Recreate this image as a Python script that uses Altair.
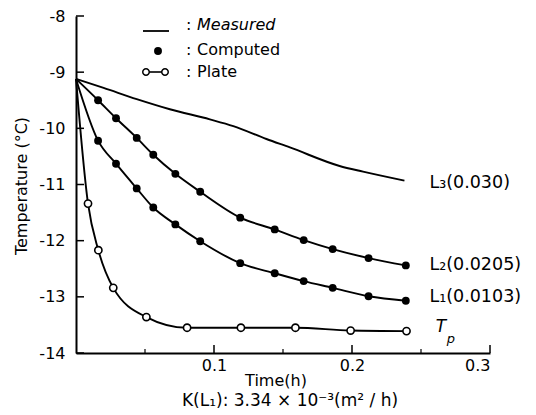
import altair as alt
import pandas as pd

FONT = "DejaVu Sans"

# ---- data ----
start_t = 0.0
start_v = -9.12

meas_t = [0.0, 0.02, 0.044, 0.068, 0.097, 0.114, 0.138, 0.155, 0.191, 0.208, 0.238]
meas_v = [-9.12, -9.28, -9.48, -9.66, -9.84, -9.96, -10.19, -10.34, -10.67, -10.77, -10.93]

comp_t = [0.016, 0.029, 0.044, 0.056, 0.072, 0.090, 0.119, 0.144, 0.165, 0.186, 0.212, 0.239]
L2_v = [-9.50, -9.82, -10.17, -10.47, -10.81, -11.13, -11.59, -11.80, -11.99, -12.15, -12.31, -12.44]
L1_v = [-10.22, -10.63, -11.07, -11.41, -11.71, -12.01, -12.40, -12.58, -12.72, -12.84, -12.99, -13.07]

plate_t = [0.0087, 0.0162, 0.027, 0.051, 0.0805, 0.1195, 0.159, 0.199, 0.2395]
plate_v = [-11.34, -12.17, -12.84, -13.36, -13.55, -13.55, -13.55, -13.60, -13.61]

x_ticks_major = [0.1, 0.2, 0.3]
x_ticks_minor = [0.05, 0.15, 0.25]
y_ticks = [-14, -13, -12, -11, -10, -9, -8]

curve_labels = ["L\u2083(0.030)", "L\u2082(0.0205)", "L\u2081(0.0103)"]
curve_label_t = [0.238, 0.238, 0.238]
curve_label_v = [-10.97, -12.44, -13.00]
tp_t = [0.239]
tp_v = [-13.53]

legend_labels = ["Measured", "Computed", "Plate"]

# ---- tables ----
rows = []
for i, (t, v) in enumerate(zip(meas_t, meas_v)):
    rows.append({"series": "L3", "t": t, "v": v, "o": i})
for name, vals in (("L2", L2_v), ("L1", L1_v)):
    rows.append({"series": name, "t": start_t, "v": start_v, "o": 0})
    for i, (t, v) in enumerate(zip(comp_t, vals)):
        rows.append({"series": name, "t": t, "v": v, "o": i + 1})
rows.append({"series": "Tp", "t": start_t, "v": start_v, "o": 0})
for i, (t, v) in enumerate(zip(plate_t, plate_v)):
    rows.append({"series": "Tp", "t": t, "v": v, "o": i + 1})
lines_df = pd.DataFrame(rows)

comp_df = pd.DataFrame(
    [{"t": t, "v": v} for vals in (L2_v, L1_v) for t, v in zip(comp_t, vals)]
)
plate_df = pd.DataFrame({"t": plate_t, "v": plate_v})

xs = alt.Scale(domain=[0, 0.3], nice=False, zero=False)
ys = alt.Scale(domain=[-14, -8], nice=False, zero=False)

X = alt.X(
    "t:Q",
    scale=xs,
    axis=alt.Axis(
        values=x_ticks_major, tickSize=0, grid=False, title=None, format=".1f",
        domainColor="black", domainWidth=2, labelFont=FONT, labelFontSize=16,
        labelColor="black", labelPadding=4,
    ),
)
Y = alt.Y(
    "v:Q",
    scale=ys,
    axis=alt.Axis(
        values=y_ticks, tickSize=0, grid=False, title=None,
        labelExpr="'-' + abs(datum.value)",
        domainColor="black", domainWidth=2, labelFont=FONT, labelFontSize=16,
        labelColor="black", labelPadding=11,
    ),
)

lines = alt.Chart(lines_df).mark_line(
    color="black", strokeWidth=1.9, interpolate="monotone"
).encode(x=X, y=Y, detail="series:N", order="o:Q")

comp_pts = alt.Chart(comp_df).mark_point(
    shape="circle", filled=True, color="black", size=62, opacity=1
).encode(x=alt.X("t:Q", scale=xs), y=alt.Y("v:Q", scale=ys))

plate_pts = alt.Chart(plate_df).mark_point(
    shape="circle", filled=True, fill="white", stroke="black", strokeWidth=1.6,
    size=52, opacity=1,
).encode(x=alt.X("t:Q", scale=xs), y=alt.Y("v:Q", scale=ys))

# inward ticks
ytick = alt.Chart(pd.DataFrame({"v": y_ticks})).mark_rule(
    color="black", strokeWidth=1.5
).encode(y=alt.Y("v:Q", scale=ys), x=alt.value(0), x2=alt.value(8))
xtick_major = alt.Chart(pd.DataFrame({"t": x_ticks_major})).mark_rule(
    color="black", strokeWidth=1.5
).encode(x=alt.X("t:Q", scale=xs), y=alt.value(337), y2=alt.value(329))
xtick_minor = alt.Chart(pd.DataFrame({"t": x_ticks_minor})).mark_rule(
    color="black", strokeWidth=1.2
).encode(x=alt.X("t:Q", scale=xs), y=alt.value(337), y2=alt.value(333))

# curve labels on the right
lab_df = pd.DataFrame({"label": curve_labels, "t": curve_label_t, "v": curve_label_v})
curve_text = alt.Chart(lab_df).mark_text(
    font=FONT, fontSize=17.5, align="left", baseline="middle", dx=25, color="black"
).encode(x=alt.X("t:Q", scale=xs), y=alt.Y("v:Q", scale=ys), text="label:N")

tp_df = pd.DataFrame({"t": tp_t, "v": tp_v, "T": ["T"], "p": ["p"]})
tp_T = alt.Chart(tp_df).mark_text(
    font=FONT, fontSize=17, fontStyle="italic", align="left", baseline="middle",
    dx=30, color="black",
).encode(x=alt.X("t:Q", scale=xs), y=alt.Y("v:Q", scale=ys), text="T:N")
tp_p = alt.Chart(tp_df).mark_text(
    font=FONT, fontSize=13, fontStyle="italic", align="left", baseline="middle",
    dx=41, dy=12, color="black",
).encode(x=alt.X("t:Q", scale=xs), y=alt.Y("v:Q", scale=ys), text="p:N")


# ---- legend (decoration, pixel placed) ----
def one(label):
    return alt.Chart(pd.DataFrame({"label": [label]}))


leg = []
leg.append(one("m").mark_rule(color="black", strokeWidth=1.8).encode(
    x=alt.value(67), x2=alt.value(93), y=alt.value(15)))
leg.append(one("c").mark_point(shape="circle", filled=True, color="black", size=62, opacity=1).encode(
    x=alt.value(82), y=alt.value(35)))
leg.append(one("p").mark_rule(color="black", strokeWidth=1.6).encode(
    x=alt.value(70), x2=alt.value(89), y=alt.value(56)))
for px in (70, 89):
    leg.append(one("p").mark_point(
        shape="circle", filled=True, fill="white", stroke="black", strokeWidth=1.5,
        size=42, opacity=1).encode(x=alt.value(px), y=alt.value(56)))
for lbl, py, style in zip(legend_labels, (9, 34, 56), ("italic", "normal", "normal")):
    leg.append(one(":").mark_text(font=FONT, fontSize=16, align="left", baseline="middle", color="black").encode(
        x=alt.value(110), y=alt.value(py), text="label:N"))
    leg.append(one(lbl).mark_text(font=FONT, fontSize=16, fontStyle=style, align="left",
                                  baseline="middle", color="black").encode(
        x=alt.value(121), y=alt.value(py), text="label:N"))

# ---- axis titles ----
ytitle = one("Temperature (\u00b0C)").mark_text(
    font=FONT, fontSize=16, angle=270, align="center", baseline="middle", color="black"
).encode(x=alt.value(-54), y=alt.value(170), text="label:N")
xtitle = one("Time(h)").mark_text(
    font=FONT, fontSize=16, align="center", baseline="middle", color="black"
).encode(x=alt.value(200), y=alt.value(365), text="label:N")
ktitle = one("K(L\u2081): 3.34 \u00d7 10\u207b\u00b3(m\u00b2 / h)").mark_text(
    font=FONT, fontSize=17, align="center", baseline="middle", color="black"
).encode(x=alt.value(214), y=alt.value(385), text="label:N")

chart = alt.layer(
    lines, comp_pts, plate_pts, ytick, xtick_major, xtick_minor,
    curve_text, tp_T, tp_p, *leg, ytitle, xtitle, ktitle,
).properties(
    width=414, height=337,
    autosize=alt.AutoSizeParams(type="none"),
    padding={"left": 68, "top": 8, "right": 38, "bottom": 60},
    background="white",
).configure_view(stroke=None)

chart.save("out.html", embed_options={"renderer": "svg", "actions": False})
